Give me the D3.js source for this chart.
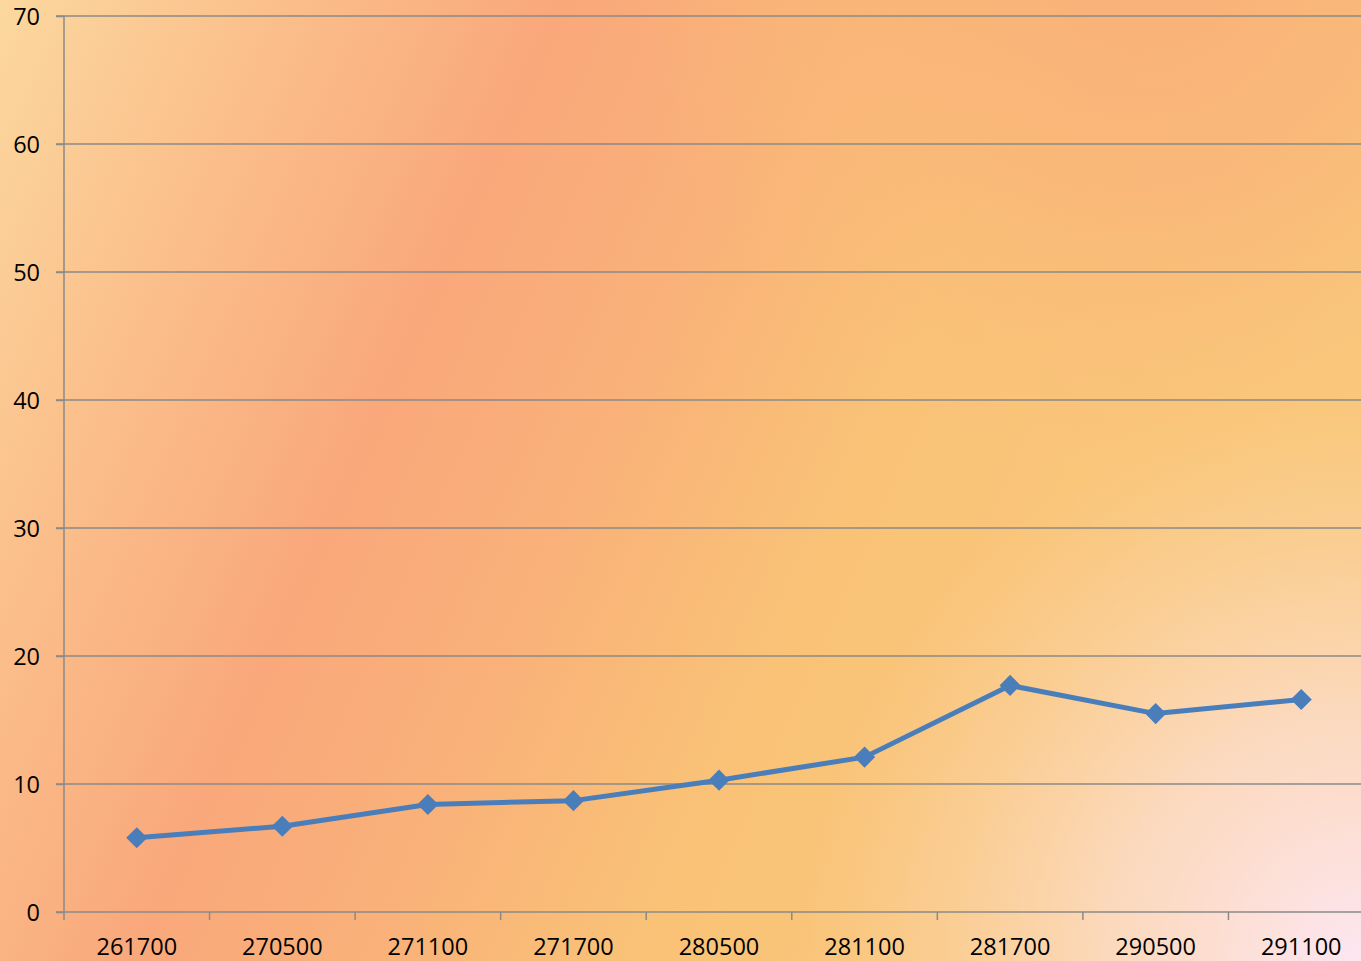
<!DOCTYPE html>
<html>
<head>
<meta charset="utf-8">
<script src="https://cdn.jsdelivr.net/npm/d3@7"></script>
<style>
  html, body { margin: 0; padding: 0; }
  svg { display: block; }
  .axis text { font-family: "Open Sans", "Liberation Sans", sans-serif; font-size: 23.5px; fill: #000; }
</style>
</head>
<body>
<div id="chart"></div>
<script>
var categories = ["261700", "270500", "271100", "271700", "280500", "281100", "281700", "290500", "291100"];
var values = [5.8, 6.7, 8.4, 8.7, 10.3, 12.1, 17.7, 15.5, 16.6];
var yTicks = [0, 10, 20, 30, 40, 50, 60, 70];

var W = 1361, H = 961;
var margin = { top: 16, right: -13, bottom: 49, left: 64 },
    width = W - margin.left - margin.right,
    height = H - margin.top - margin.bottom;

var svg = d3.select("#chart").append("svg")
    .attr("width", W)
    .attr("height", H);

// background: base gradient plus two soft overlays
var defs = svg.append("defs");
var lg = defs.append("linearGradient")
    .attr("id", "bg")
    .attr("gradientUnits", "userSpaceOnUse")
    .attr("x1", 0).attr("y1", 0)
    .attr("x2", 1230).attr("y2", 547);
[[0, "#fbd89f"], [0.18, "#fbc08c"], [0.38, "#f9a87b"], [0.55, "#f9b279"],
 [0.72, "#f9c277"], [1, "#f9c87c"]].forEach(function(s) {
    lg.append("stop").attr("offset", s[0]).attr("stop-color", s[1]);
});

var og = defs.append("radialGradient")
    .attr("id", "orange")
    .attr("gradientUnits", "userSpaceOnUse")
    .attr("cx", 1150).attr("cy", -60).attr("r", 520);
og.append("stop").attr("offset", 0).attr("stop-color", "#f9ae7a").attr("stop-opacity", 0.95);
og.append("stop").attr("offset", 0.5).attr("stop-color", "#f9b479").attr("stop-opacity", 0.7);
og.append("stop").attr("offset", 1).attr("stop-color", "#f9bc78").attr("stop-opacity", 0);

var rg = defs.append("radialGradient")
    .attr("id", "pink")
    .attr("gradientUnits", "userSpaceOnUse")
    .attr("cx", 1361).attr("cy", 961).attr("r", 560);
rg.append("stop").attr("offset", 0).attr("stop-color", "#fde6f2").attr("stop-opacity", 1);
rg.append("stop").attr("offset", 0.45).attr("stop-color", "#fcdcc8").attr("stop-opacity", 0.85);
rg.append("stop").attr("offset", 1).attr("stop-color", "#fbd3a8").attr("stop-opacity", 0);

svg.append("rect").attr("width", W).attr("height", H).attr("fill", "url(#bg)");
svg.append("rect").attr("width", W).attr("height", H).attr("fill", "url(#orange)");
svg.append("rect").attr("width", W).attr("height", H).attr("fill", "url(#pink)");

var g = svg.append("g")
    .attr("transform", "translate(" + margin.left + "," + margin.top + ")");

var x = d3.scaleBand().domain(categories).range([0, width]);
var y = d3.scaleLinear().domain([0, 70]).range([height, 0]);

// gridlines
g.selectAll(".grid")
    .data(yTicks.slice(1))
    .enter().append("line")
    .attr("class", "grid")
    .attr("x1", -8).attr("x2", width)
    .attr("y1", function(d) { return y(d); })
    .attr("y2", function(d) { return y(d); })
    .attr("stroke", "#8a8a8a")
    .attr("stroke-width", 1.5);

// y axis
var yAxis = g.append("g").attr("class", "axis")
    .call(d3.axisLeft(y).tickValues(yTicks).tickSize(8).tickPadding(16));
yAxis.attr("font-size", null).attr("font-family", null);
yAxis.selectAll("line, path").attr("stroke", "#8a8a8a").attr("stroke-width", 1.5);
yAxis.select(".domain").attr("d", "M0," + height + "V0");
yAxis.selectAll("text").attr("dy", "0.34em");

// x axis
var xTickPos = categories.map(function(c) { return x(c); });
var xAxis = g.append("g").attr("class", "axis")
    .attr("transform", "translate(0," + height + ")");
xAxis.append("line")
    .attr("x1", -8).attr("x2", width)
    .attr("stroke", "#8a8a8a").attr("stroke-width", 1.5);
xAxis.selectAll(".xtick")
    .data(xTickPos)
    .enter().append("line")
    .attr("x1", function(d) { return d; })
    .attr("x2", function(d) { return d; })
    .attr("y1", 0).attr("y2", 8)
    .attr("stroke", "#8a8a8a").attr("stroke-width", 1.5);
xAxis.selectAll(".xlabel")
    .data(categories)
    .enter().append("text")
    .attr("x", function(d) { return x(d) + x.bandwidth() / 2; })
    .attr("y", 43)
    .attr("text-anchor", "middle")
    .text(function(d) { return d; });

// line
var line = d3.line()
    .x(function(d, i) { return x(categories[i]) + x.bandwidth() / 2; })
    .y(function(d) { return y(d); });

g.append("path")
    .datum(values)
    .attr("d", line)
    .attr("fill", "none")
    .attr("stroke", "#4a7ebb")
    .attr("stroke-width", 5)
    .attr("stroke-linejoin", "round");

var diamond = d3.symbol().type(d3.symbolDiamond2).size(285);
g.selectAll(".pt")
    .data(values)
    .enter().append("path")
    .attr("class", "pt")
    .attr("d", diamond)
    .attr("transform", function(d, i) {
        return "translate(" + (x(categories[i]) + x.bandwidth() / 2) + "," + y(d) + ")";
    })
    .attr("fill", "#4a7ebb");
</script>
</body>
</html>
